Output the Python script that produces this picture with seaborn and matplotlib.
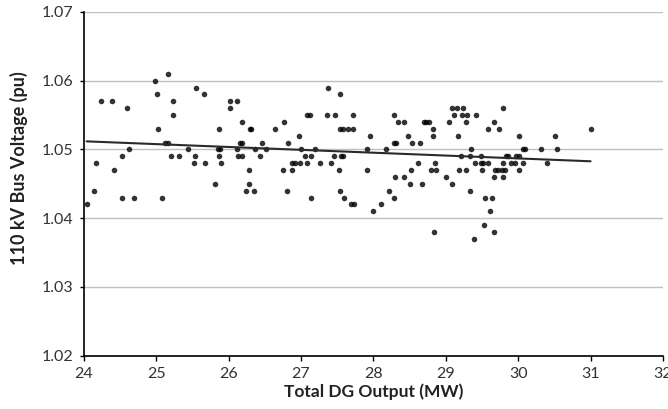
import matplotlib
matplotlib.use("Agg")
import matplotlib.pyplot as plt
import seaborn as sns
import pandas as pd

dg_output = [
    24.04, 24.14, 24.17, 24.24, 24.39, 24.42, 24.53, 24.53, 24.60, 24.63,
    24.69, 24.99, 25.01, 25.02, 25.08, 25.16, 25.12, 25.16, 25.23, 25.24,
    25.20, 25.31, 25.44, 25.55, 25.54, 25.52, 25.66, 25.67, 25.82, 25.87,
    25.86, 25.88, 25.87, 25.89,
    26.02, 26.12, 26.02, 26.19, 26.29, 26.31, 26.12, 26.13, 26.19, 26.16,
    26.19, 26.36, 26.28, 26.28, 26.24, 26.35, 26.46, 26.43, 26.52, 26.64,
    26.76, 26.82, 26.75, 26.81, 26.87, 26.92, 26.87, 26.98, 27.00, 26.99,
    27.08, 27.05, 27.08, 27.13, 27.14, 27.20, 27.14, 27.26, 27.36, 27.38,
    27.47, 27.45, 27.41, 27.54, 27.54, 27.58, 27.65, 27.72, 27.72, 27.55,
    27.58, 27.53, 27.54, 27.59, 27.69, 27.73, 27.91, 27.91,
    27.96, 27.99, 28.10, 28.18, 28.22, 28.28, 28.30, 28.28, 28.34, 28.42,
    28.28, 28.31, 28.43, 28.48, 28.51, 28.52, 28.54, 28.61, 28.65, 28.67,
    28.70, 28.73, 28.77, 28.82, 28.82, 28.79, 28.87, 28.85, 29.01, 29.04,
    29.08, 29.08, 29.15, 29.11, 29.17, 29.18, 29.22, 29.29, 29.24, 29.28,
    29.21, 29.28, 29.34, 29.35, 29.33, 29.40, 29.42, 29.49, 29.48, 29.52,
    29.58, 29.50, 29.54, 29.64, 29.61, 29.58, 29.66, 29.67, 29.68, 29.72,
    29.77, 29.82, 29.74, 29.79, 29.79, 29.79, 29.83,
    29.53, 29.66, 28.84, 29.39,
    29.86, 29.90, 29.95, 29.97, 30.01, 30.01, 30.01, 30.06, 30.06, 30.09,
    30.31, 30.40, 30.51, 30.54, 31.00,
]

bus_voltage = [
    1.042, 1.044, 1.048, 1.057, 1.057, 1.047, 1.043, 1.049, 1.056, 1.050,
    1.043, 1.060, 1.058, 1.053, 1.043, 1.061, 1.051, 1.051, 1.057, 1.055,
    1.049, 1.049, 1.050, 1.059, 1.049, 1.048, 1.058, 1.048, 1.045, 1.053,
    1.050, 1.050, 1.049, 1.048,
    1.057, 1.057, 1.056, 1.054, 1.053, 1.053, 1.050, 1.049, 1.049, 1.051,
    1.051, 1.050, 1.047, 1.045, 1.044, 1.044, 1.051, 1.049, 1.050, 1.053,
    1.054, 1.051, 1.047, 1.044, 1.048, 1.048, 1.047, 1.052, 1.050, 1.048,
    1.048, 1.049, 1.055, 1.055, 1.049, 1.050, 1.043, 1.048, 1.055, 1.059,
    1.055, 1.049, 1.048, 1.058, 1.053, 1.053, 1.053, 1.053, 1.055, 1.049,
    1.049, 1.047, 1.044, 1.043, 1.042, 1.042, 1.047, 1.050,
    1.052, 1.041, 1.042, 1.050, 1.044, 1.043, 1.046, 1.055, 1.054, 1.054,
    1.051, 1.051, 1.046, 1.052, 1.045, 1.047, 1.051, 1.048, 1.051, 1.045,
    1.054, 1.054, 1.054, 1.053, 1.052, 1.047, 1.047, 1.048, 1.046, 1.054,
    1.045, 1.056, 1.056, 1.055, 1.052, 1.047, 1.055, 1.055, 1.056, 1.054,
    1.049, 1.047, 1.044, 1.050, 1.049, 1.048, 1.055, 1.049, 1.048, 1.048,
    1.048, 1.047, 1.043, 1.043, 1.041, 1.053, 1.054, 1.046, 1.047, 1.047,
    1.047, 1.047, 1.053, 1.048, 1.046, 1.056, 1.049,
    1.039, 1.038, 1.038, 1.037,
    1.049, 1.048, 1.048, 1.049, 1.049, 1.047, 1.052, 1.048, 1.050, 1.050,
    1.050, 1.048, 1.052, 1.050, 1.053,
]

x_ticks = [24, 25, 26, 27, 28, 29, 30, 31, 32]
y_ticks = [1.02, 1.03, 1.04, 1.05, 1.06, 1.07]
x_label = "Total DG Output (MW)"
y_label = "110 kV Bus Voltage (pu)"

df = pd.DataFrame({"dg": dg_output, "v": bus_voltage})

sns.set_style("white")
plt.rcParams["font.family"] = ["Lato", "DejaVu Sans"]

fig = plt.figure(figsize=(6.68, 4.09), dpi=100)
ax = fig.add_axes([0.1253, 0.1303, 0.8672, 0.8404])

sns.regplot(data=df, x="dg", y="v", ax=ax, ci=None, truncate=True,
            scatter_kws={"s": 16, "color": "black", "linewidths": 0, "zorder": 3},
            line_kws={"color": "#2a2a2a", "linewidth": 1.5, "zorder": 4})

ax.set_xlim(24, 32)
ax.set_ylim(1.02, 1.07)
ax.set_xticks(x_ticks)
ax.set_yticks(y_ticks)
ax.set_xticklabels([str(t) for t in x_ticks], fontsize=11.5, color="#333333")
ax.set_yticklabels([f"{t:.2f}" for t in y_ticks], fontsize=11.5, color="#333333")
ax.yaxis.grid(True, color="#c0c0c0", linewidth=1.0)
ax.xaxis.grid(False)
ax.set_axisbelow(True)

for s in ["top", "right"]:
    ax.spines[s].set_visible(False)
for s in ["left", "bottom"]:
    ax.spines[s].set_color("black")
    ax.spines[s].set_linewidth(1.2)

ax.tick_params(axis="x", which="major", direction="out", length=3.6,
               width=1, color="black", bottom=True, pad=4.5)
ax.tick_params(axis="y", which="major", direction="out", length=3,
               width=1, color="black", left=True, pad=4.5)

ax.set_xlabel(x_label, fontsize=12.5, fontweight="bold", color="#222222", labelpad=1.5)
ax.set_ylabel(y_label, fontsize=13, fontweight="bold", color="#222222")
ax.yaxis.set_label_coords(-0.096, 0.546)

fig.savefig("out.png", dpi=100)
